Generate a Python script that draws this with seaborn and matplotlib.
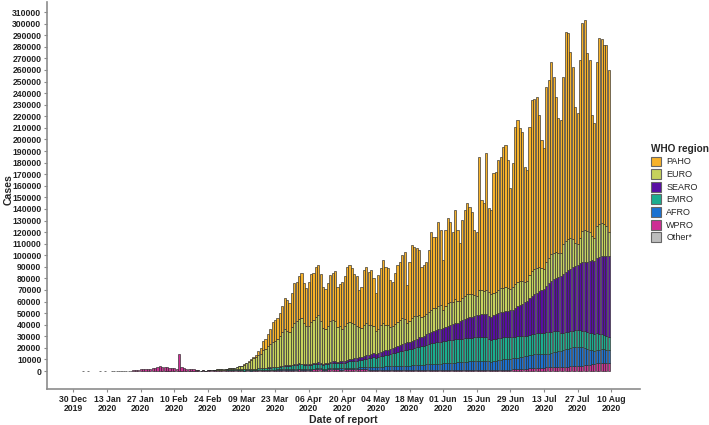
import numpy as np
import pandas as pd
import matplotlib
matplotlib.use("Agg")
import matplotlib.pyplot as plt
import seaborn as sns

# Daily new cases by WHO region, by date of report (30 Dec 2019 - 09 Aug 2020)
# one row per week, Monday..Sunday
wpro = [
    0, 0, 0, 0, 44, 0, 17,
    0, 0, 0, 0, 41, 0, 7,
    0, 0, 4, 17, 59, 77, 93,
    140, 150, 260, 450, 690, 770, 1000,
    1770, 1460, 1740, 1980, 2100, 2590, 2830,
    3300, 4100, 3900, 3400, 3500, 2800, 3000,
    2500, 2100, 15100, 3300, 2600, 2100, 2000,
    1900, 1750, 500, 700, 400, 650, 300,
    500, 600, 600, 700, 900, 1100, 900,
    700, 800, 700, 700, 600, 700, 600,
    500, 450, 500, 500, 450, 500, 500,
    600, 700, 800, 800, 900, 900, 1000,
    1000, 1100, 1100, 1200, 1200, 1100, 1000,
    1100, 1200, 1300, 1400, 1300, 1200, 1100,
    1200, 1300, 1400, 1500, 1600, 1400, 1300,
    1300, 1400, 1500, 1600, 1500, 1400, 1300,
    1300, 1400, 1500, 1600, 1500, 1400, 1400,
    1500, 1400, 1500, 1400, 1300, 1300, 1200,
    1100, 1100, 1200, 1100, 1100, 1000, 1000,
    1000, 900, 900, 900, 800, 800, 800,
    800, 800, 800, 800, 800, 700, 700,
    800, 800, 700, 700, 700, 700, 700,
    700, 700, 700, 700, 700, 700, 700,
    700, 700, 700, 800, 800, 800, 800,
    800, 800, 800, 800, 800, 900, 900,
    1000, 1000, 1100, 1100, 1200, 1200, 1300,
    1300, 1400, 1500, 1600, 1700, 1800, 1900,
    2100, 2300, 2400, 2500, 2600, 2700, 2800,
    3000, 3300, 3500, 3600, 3700, 3700, 3700,
    3700, 3700, 3800, 3900, 4000, 4100, 4200,
    4300, 4300, 4500, 4800, 5100, 5400, 5800,
    6200, 6600, 6800, 7000, 7000, 6800, 6600,
]

afro = [0] * 56 + [
    0, 0, 0, 1, 1, 0, 0,
    1, 2, 2, 3, 5, 5, 5,
    10, 10, 20, 20, 30, 50, 60,
    50, 70, 100, 120, 150, 200, 250,
    300, 250, 400, 400, 450, 500, 600,
    600, 700, 800, 800, 900, 700, 600,
    700, 800, 800, 900, 1000, 900, 800,
    800, 900, 1000, 1000, 1100, 1000, 1100,
    1000, 1100, 1200, 1300, 1400, 1500, 1500,
    1700, 1800, 2000, 2100, 2200, 2300, 2400,
    2300, 2500, 2700, 2800, 3000, 3100, 3300,
    3300, 3500, 3600, 3700, 3800, 3900, 3800,
    3900, 4100, 4200, 4300, 4400, 4500, 4600,
    5000, 5100, 5300, 5400, 5500, 5700, 5800,
    5900, 6000, 6200, 6300, 6500, 6600, 6700,
    7000, 7100, 7300, 7400, 7500, 7600, 7700,
    7800, 7900, 8000, 8000, 8100, 7500, 7100,
    7500, 8000, 8500, 8800, 9000, 9200, 9300,
    9300, 9500, 9800, 10000, 10300, 10500, 10800,
    11000, 11500, 11800, 12000, 12200, 12300, 12200,
    11500, 11000, 11500, 12000, 12500, 13000, 13500,
    14000, 14400, 15000, 15500, 16000, 16500, 16500,
    16500, 16700, 16000, 15000, 14000, 13000, 12500,
    11500, 11500, 11800, 12000, 11800, 11600, 11500,
]

emro = [0] * 49 + [
    0, 0, 2, 3, 5, 10, 30,
    60, 40, 90, 120, 150, 210, 380,
    500, 600, 700, 700, 900, 1100, 1100,
    1000, 1000, 1100, 1200, 1300, 1400, 1500,
    1600, 1700, 1600, 1800, 1900, 1900, 2000,
    2000, 2200, 2400, 2600, 2800, 3000, 3100,
    3200, 3300, 3400, 3500, 3600, 3500, 3400,
    3300, 3500, 3600, 3800, 3900, 3700, 3500,
    3600, 3800, 4200, 4400, 4600, 4300, 4400,
    4500, 4800, 5200, 5500, 5800, 5900, 6000,
    6300, 6600, 7000, 7300, 7600, 7900, 8200,
    8000, 8500, 9000, 9300, 9600, 10000, 10400,
    10900, 11500, 12000, 12500, 13000, 13500, 13800,
    14000, 14500, 15000, 15500, 16000, 16500, 16500,
    17000, 17500, 18000, 18500, 18500, 19000, 19000,
    19000, 19500, 19500, 20000, 20000, 20000, 20000,
    20000, 20000, 20500, 20500, 20500, 20500, 20500,
    20500, 20500, 20500, 20500, 20500, 19000, 18500,
    19000, 19000, 19000, 19000, 18800, 18800, 18700,
    18700, 18700, 18500, 18500, 18300, 18000, 17800,
    17500, 17300, 17500, 17800, 18000, 18200, 18200,
    18000, 19300, 19000, 18500, 18000, 17500, 17000,
    15000, 14400, 14500, 14500, 14500, 14400, 14400,
    14400, 14400, 14400, 14400, 14400, 14400, 14400,
    14000, 14400, 13800, 13200, 12600, 12000, 11500,
]

searo = [0] * 56 + [
    0, 0, 0, 0, 0, 2, 2,
    5, 5, 20, 10, 5, 10, 10,
    20, 20, 20, 20, 30, 30, 40,
    50, 60, 80, 100, 150, 200, 250,
    300, 250, 350, 400, 500, 400, 450,
    500, 600, 700, 900, 700, 800, 600,
    700, 800, 900, 900, 1000, 1100, 900,
    1000, 1100, 1200, 1300, 1400, 1300, 1500,
    1500, 1600, 1700, 1900, 2000, 2100, 2200,
    2300, 2500, 2700, 2900, 3100, 3300, 3400,
    3300, 3600, 3800, 4000, 4200, 4300, 4400,
    4400, 4800, 5200, 5500, 5800, 6100, 6300,
    6500, 6800, 7200, 7500, 7800, 8100, 8400,
    8800, 9200, 9600, 10000, 10400, 10800, 11200,
    11500, 12000, 12500, 13000, 13500, 14000, 14500,
    15500, 16000, 16500, 17000, 17500, 18000, 18500,
    19000, 19500, 20000, 20000, 20000, 20000, 20000,
    20500, 21000, 21500, 22000, 22000, 22500, 22500,
    23000, 23000, 25000, 26000, 27000, 28000, 29000,
    30000, 32000, 33000, 34000, 35000, 36000, 37000,
    38000, 40000, 42000, 44000, 45000, 46000, 47000,
    49000, 51000, 52000, 53000, 54000, 55000, 55500,
    56000, 57600, 59000, 60000, 61000, 62000, 63000,
    63000, 65000, 66000, 67000, 68000, 69000, 70000,
]

euro = [0] * 49 + [
    0, 0, 0, 3, 15, 60, 80,
    70, 120, 150, 250, 300, 400, 500,
    500, 700, 800, 1000, 1300, 1800, 2300,
    3000, 4000, 5200, 6500, 7800, 9000, 10000,
    11500, 12500, 16000, 16000, 18500, 20000, 22000,
    22500, 24000, 26000, 29000, 31000, 30000, 28500,
    33000, 36000, 37000, 38000, 39000, 35000, 33000,
    33000, 36000, 37000, 40000, 41000, 36000, 31000,
    30000, 32000, 35000, 36000, 35000, 30000, 31000,
    28000, 30000, 32000, 32000, 31000, 30000, 28000,
    26500, 25000, 27000, 28000, 26000, 25000, 24000,
    20000, 21000, 23000, 24000, 22000, 21000, 19000,
    19500, 20000, 21000, 21500, 22000, 21000, 17000,
    18000, 20000, 20000, 19500, 19000, 17000, 17500,
    17500, 18000, 19000, 19500, 19000, 20000, 20500,
    15500, 18000, 19500, 20000, 19000, 20500, 19000,
    17500, 19000, 20000, 20500, 20500, 20000, 18500,
    17000, 21000, 20500, 20000, 20500, 20500, 20000,
    19500, 19500, 20000, 20500, 21000, 20500, 20000,
    18500, 20000, 20500, 21000, 20500, 19500, 17500,
    17000, 20000, 21500, 22000, 21500, 21000, 18500,
    17500, 21000, 22000, 23000, 23000, 22500, 21000,
    20000, 26000, 27000, 27000, 26000, 24000, 20000,
    18500, 22000, 27000, 27500, 26500, 25500, 21000,
    20000, 27500, 29000, 29000, 28000, 26000, 20200,
]

paho = [0] * 56 + [
    0, 5, 3, 5, 10, 10, 20,
    25, 30, 40, 50, 80, 110, 150,
    200, 300, 400, 600, 900, 1400, 1900,
    3200, 5000, 7400, 9200, 10400, 12800, 16500,
    17900, 18200, 19800, 22400, 27100, 26000, 24900,
    28600, 34200, 33800, 37400, 39500, 34800, 33300,
    38100, 41600, 41300, 42900, 43500, 40900, 35500,
    34300, 36800, 40100, 40700, 42400, 35000, 35700,
    40700, 43100, 48400, 49200, 47300, 43100, 42900,
    31600, 35500, 47000, 48400, 45600, 47400, 40800,
    32400, 46200, 49000, 54700, 50200, 49300, 40500,
    38000, 43700, 48800, 50300, 54800, 57700, 32600,
    51200, 62600, 60200, 58400, 56500, 43300, 43800,
    45300, 53900, 67700, 61900, 61900, 72700, 64600,
    43300, 65600, 73400, 68900, 60600, 77200, 60900,
    49600, 67600, 74000, 78600, 75100, 70700, 55800,
    55200, 115300, 77900, 75500, 118100, 72600, 72500,
    103200, 103600, 112100, 113600, 121700, 123000, 110400,
    86900, 106700, 135700, 139700, 131800, 128900, 99400,
    96000, 127900, 147800, 146300, 147600, 130900, 110800,
    104300, 150900, 153300, 166000, 151900, 134200, 116000,
    115100, 144600, 180700, 177700, 161200, 148800, 117600,
    112800, 153600, 179400, 181400, 153300, 148300, 104400,
    99200, 142100, 159900, 158200, 154100, 156100, 140100,
]

# cases on international conveyance
other = [0] * 35 + [
    0, 0, 10, 10, 41, 3, 0,
    65, 0, 39, 44, 0, 67, 70,
    99, 88, 79, 13, 0, 0, 0,
] + [0] * 168

regions = ["PAHO", "EURO", "SEARO", "EMRO", "AFRO", "WPRO", "Other*"]
colors = ["#F7B22A", "#C6D25C", "#580DA3", "#1BAD8F", "#1A71D1", "#CD2E94", "#BDBDBD"]

tick_labels = ["30 Dec\n2019", "13 Jan\n2020", "27 Jan\n2020", "10 Feb\n2020",
               "24 Feb\n2020", "09 Mar\n2020", "23 Mar\n2020", "06 Apr\n2020",
               "20 Apr\n2020", "04 May\n2020", "18 May\n2020", "01 Jun\n2020",
               "15 Jun\n2020", "29 Jun\n2020", "13 Jul\n2020", "27 Jul\n2020",
               "10 Aug\n2020"]

dates = pd.date_range("2019-12-30", periods=len(wpro), freq="D")
df = pd.DataFrame({"date": dates, "PAHO": paho, "EURO": euro, "SEARO": searo,
                   "EMRO": emro, "AFRO": afro, "WPRO": wpro, "Other*": other})
long_df = df.melt(id_vars="date", var_name="region", value_name="cases")
long_df["day"] = (long_df["date"] - dates[0]).dt.days

sns.set_theme(style="ticks")
plt.rcParams["font.family"] = ["Liberation Sans", "DejaVu Sans"]

fig = plt.figure(figsize=(7.09, 4.25), dpi=100)
ax = fig.add_axes([0.0663, 0.0847, 0.8364, 0.9100])

sns.histplot(data=long_df, x="day", weights="cases", hue="region",
             hue_order=regions, palette=dict(zip(regions, colors)),
             multiple="stack", discrete=True, shrink=0.9, alpha=1,
             edgecolor="#2b2b2b", linewidth=0.45, ax=ax)

# drop the empty (zero height) segments
for p in ax.patches:
    if p.get_height() == 0:
        p.set_visible(False)

ax.set_xlim(-11, 236)
ax.set_ylim(-15500, 318500)
ax.set_xticks(np.arange(len(tick_labels)) * 14)
ax.set_xticklabels(tick_labels, linespacing=1.0)
yt = np.arange(0, 310001, 10000)
ax.set_yticks(yt)
ax.set_yticklabels([str(v) for v in yt])
for lbl in ax.get_xticklabels() + ax.get_yticklabels():
    lbl.set_fontweight("bold")
ax.tick_params(axis="both", labelsize=6.2, length=2.5, width=0.8,
               color="#888888", labelcolor="#222222")
ax.tick_params(axis="x", pad=1.5)
ax.tick_params(axis="y", pad=1.5)

ax.set_xlabel("Date of report", fontsize=7.6, fontweight="bold")
ax.set_ylabel("Cases", fontsize=7.6, fontweight="bold")
ax.xaxis.set_label_coords(0.5, -0.066)
ax.yaxis.set_label_coords(-0.056, 0.515)

sns.despine(ax=ax)
for side in ["left", "bottom"]:
    ax.spines[side].set_color("#8c8c8c")
    ax.spines[side].set_linewidth(1.2)

sns.move_legend(ax, "upper left", bbox_to_anchor=(1.005, 0.655), frameon=False,
                title="WHO region", fontsize=6.5, title_fontsize=7.2,
                handlelength=1.1, handleheight=1.3, labelspacing=0.3,
                handletextpad=0.6)
leg = ax.get_legend()
leg.get_title().set_fontweight("bold")
leg._legend_box.align = "left"
for h in leg.legend_handles:
    h.set_edgecolor("#666666")
    h.set_linewidth(0.8)

fig.savefig("out.png", dpi=100)
